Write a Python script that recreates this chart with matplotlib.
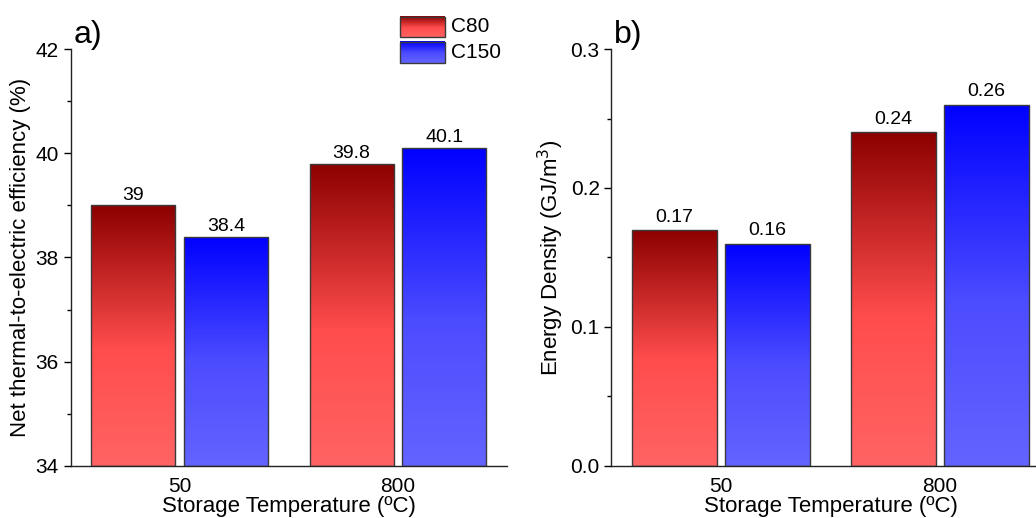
import numpy as np
import matplotlib
matplotlib.use("Agg")
import matplotlib.pyplot as plt
from matplotlib.colors import LinearSegmentedColormap
from matplotlib.patches import Rectangle

plt.rcParams['font.family'] = ['Liberation Sans', 'DejaVu Sans']

# data
temps = ['50', '800']
series = ['C80', 'C150']
efficiency = {'C80': [39.0, 39.8], 'C150': [38.4, 40.1]}
density = {'C80': [0.17, 0.24], 'C150': [0.16, 0.26]}
eff_labels = {'C80': ['39', '39.8'], 'C150': ['38.4', '40.1']}
den_labels = {'C80': ['0.17', '0.24'], 'C150': ['0.16', '0.26']}

# gradient fills, top -> bottom
cmaps = {
    'C80': LinearSegmentedColormap.from_list(
        'red_grad', [(0.0, (0.55, 0.0, 0.0)), (0.55, (1.0, 0.30, 0.30)), (1.0, (1.0, 0.39, 0.39))]),
    'C150': LinearSegmentedColormap.from_list(
        'blue_grad', [(0.0, (0.0, 0.0, 1.0)), (0.55, (0.30, 0.30, 1.0)), (1.0, (0.39, 0.39, 1.0))]),
}
grad = np.linspace(0, 1, 256).reshape(-1, 1)

width = 0.385
offsets = {'C80': -0.212, 'C150': 0.212}
edge = '#3a3a3a'


def grad_bars(ax, vals, labels, base, fmt_pad):
    x = np.arange(len(temps))
    for s in series:
        bars = ax.bar(x + offsets[s], np.array(vals[s]) - base, width, bottom=base,
                      facecolor='none', edgecolor=edge, linewidth=1.0, zorder=3)
        for b, lab in zip(bars, labels[s]):
            x0, y0 = b.get_x(), b.get_y()
            w, h = b.get_width(), b.get_height()
            im = ax.imshow(grad, cmap=cmaps[s], aspect='auto',
                           extent=(x0, x0 + w, y0, y0 + h), origin='upper', zorder=2)
            im.set_clip_path(b)
            ax.text(x0 + w / 2, y0 + h + fmt_pad, lab, ha='center', va='bottom', fontsize=14)


def style(ax):
    for side in ['top', 'right']:
        ax.spines[side].set_visible(False)
    for side in ['left', 'bottom']:
        ax.spines[side].set_color('#222222')
        ax.spines[side].set_linewidth(1.0)
    ax.set_xticks(range(len(temps)))
    ax.set_xticklabels(temps)
    ax.tick_params(axis='x', length=0, labelsize=15, pad=8)
    ax.tick_params(axis='y', which='major', length=5, width=1, labelsize=15, direction='out')
    ax.tick_params(axis='y', which='minor', length=3, width=1, direction='out')
    ax.set_xlim(-0.5, 1.5)
    ax.set_xlabel('Storage Temperature (ºC)', fontsize=16, labelpad=0)


fig = plt.figure(figsize=(10.36, 5.18), dpi=100)
ax1 = fig.add_axes([0.0681, 0.1004, 0.4213, 0.8050])
ax2 = fig.add_axes([0.5902, 0.1004, 0.4228, 0.8050])

# a) efficiency
grad_bars(ax1, efficiency, eff_labels, 34, 0.03)
ax1.set_ylim(34, 42)
ax1.set_yticks([34, 36, 38, 40, 42])
ax1.set_yticks([35, 37, 39, 41], minor=True)
style(ax1)
ax1.set_ylabel('Net thermal-to-electric efficiency (%)', fontsize=16, labelpad=3)
ax1.text(0.006, 1.014, 'a)', transform=ax1.transAxes, fontsize=23, va='baseline', ha='left')

# b) energy density
grad_bars(ax2, density, den_labels, 0, 0.003)
ax2.set_ylim(0, 0.3)
ax2.set_yticks([0.0, 0.1, 0.2, 0.3])
ax2.set_yticklabels(['0.0', '0.1', '0.2', '0.3'])
ax2.set_yticks([0.05, 0.15, 0.25], minor=True)
style(ax2)
ax2.set_ylabel('Energy Density (GJ/m$^3$)', fontsize=16, labelpad=3)
ax2.text(0.005, 1.014, 'b)', transform=ax2.transAxes, fontsize=23, va='baseline', ha='left')

# legend with gradient swatches
boxes = {'C80': (1.029, 1.077), 'C150': (0.966, 1.017)}
for s in series:
    y0, y1 = boxes[s]
    r = Rectangle((0.755, y0), 0.103, y1 - y0, transform=ax1.transAxes,
                  facecolor='none', edgecolor=edge, linewidth=1.0, clip_on=False, zorder=5)
    ax1.add_patch(r)
    im = ax1.imshow(grad, cmap=cmaps[s], aspect='auto', extent=(0.755, 0.858, y0, y1),
                    origin='upper', transform=ax1.transAxes, clip_on=False, zorder=4)
    ax1.text(0.872, (y0 + y1) / 2, s, transform=ax1.transAxes, fontsize=15, va='center', ha='left')

ax1.set_xlim(-0.5, 1.5)
ax1.set_ylim(34, 42)

fig.savefig('out.png', dpi=100)
